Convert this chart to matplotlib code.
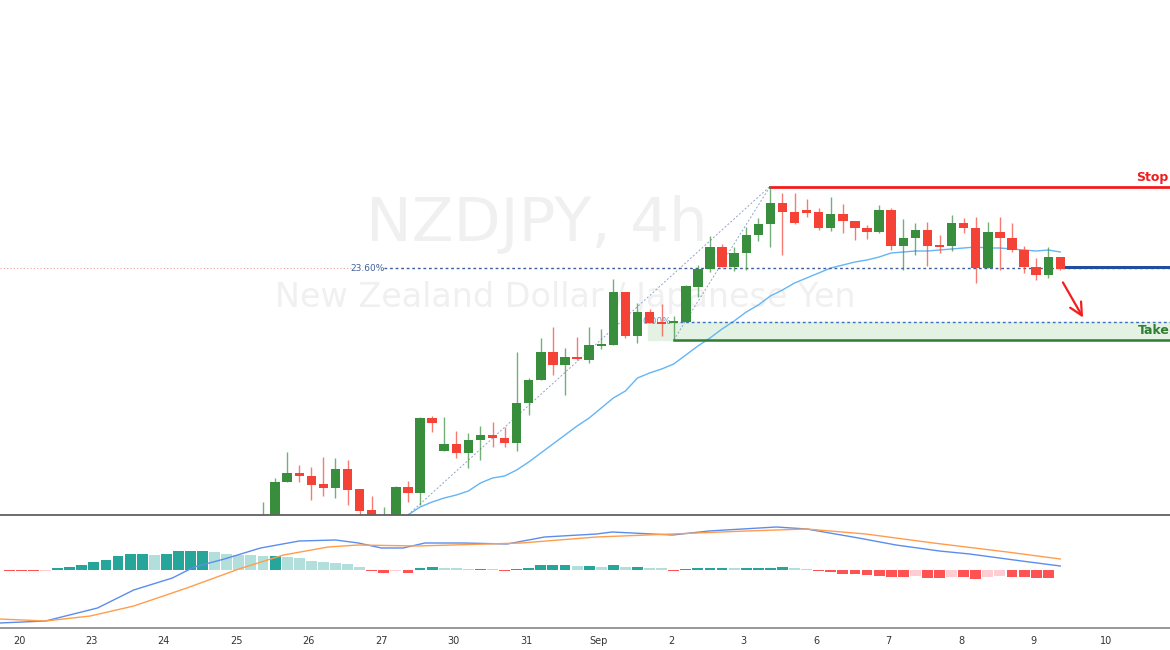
import numpy as np
import matplotlib
matplotlib.use("Agg")
import matplotlib.pyplot as plt
from matplotlib.patches import FancyArrowPatch

opens  = [76.70,76.80,77.18,77.27,77.24,77.16,77.12,77.31,77.11,76.90,76.70,76.80,77.13,77.07,77.82,77.49,77.56,77.47,77.60,77.65,
          77.62,77.57,77.97,78.20,78.48,78.35,78.43,78.40,78.545,78.55,79.08,78.64,78.88,78.77,78.77,78.78,79.13,79.31,79.53,79.33,
          79.47,79.65,79.76,79.97,79.88,79.90,79.88,79.72,79.86,79.79,79.72,79.68,79.90,79.54,79.62,79.70,79.55,79.54,79.77,79.72,
          79.32,79.68,79.62,79.50,79.33,79.25,79.43]
closes = [76.82,77.18,77.27,77.24,77.15,77.12,77.31,77.10,76.89,76.80,76.82,77.13,77.07,77.82,77.77,77.56,77.47,77.60,77.65,77.62,
          77.57,77.97,78.20,78.48,78.35,78.43,78.41,78.55,78.55,79.08,78.64,78.88,78.77,78.76,78.79,79.14,79.31,79.53,79.33,79.47,
          79.65,79.76,79.97,79.88,79.77,79.87,79.72,79.86,79.79,79.72,79.68,79.90,79.54,79.62,79.70,79.54,79.53,79.77,79.72,79.32,
          79.68,79.62,79.50,79.33,79.25,79.43,79.31]
highs  = [76.98,77.22,77.48,77.35,77.33,77.43,77.42,77.40,77.11,77.04,76.93,77.14,77.19,77.83,77.84,77.83,77.69,77.67,77.74,77.78,
          77.73,78.48,78.22,78.62,78.73,78.52,78.63,78.73,78.71,79.21,79.08,78.97,78.91,78.96,78.84,79.15,79.35,79.64,79.56,79.53,
          79.73,79.82,80.14,80.07,80.07,80.01,79.92,80.03,79.96,79.79,79.75,79.95,79.92,79.81,79.77,79.78,79.65,79.85,79.82,79.83,
          79.78,79.83,79.77,79.54,79.42,79.53,79.43]
lows   = [76.65,76.75,77.18,77.18,77.00,77.04,77.02,76.95,76.85,76.75,76.65,76.78,76.98,76.95,77.68,77.49,77.42,77.32,77.40,77.53,
          77.53,77.49,77.85,78.20,78.25,78.05,78.40,78.37,78.51,78.55,78.62,78.57,78.77,78.64,78.60,78.78,79.03,79.28,79.33,79.29,
          79.30,79.59,79.53,79.45,79.76,79.83,79.70,79.69,79.67,79.60,79.61,79.67,79.50,79.30,79.45,79.34,79.47,79.49,79.67,79.17,
          79.32,79.30,79.48,79.27,79.20,79.22,79.30]

ma_start = 12
ma_vals = [76.85,76.93,76.98,77.02,77.05,77.09,77.17,77.22,77.24,77.30,77.38,77.47,77.56,77.65,77.74,77.82,77.92,78.02,78.09,78.22,
           78.27,78.31,78.36,78.45,78.54,78.62,78.71,78.79,78.88,78.95,79.04,79.10,79.17,79.22,79.27,79.32,79.35,79.38,79.40,79.43,
           79.47,79.48,79.49,79.49,79.50,79.51,79.52,79.53,79.52,79.52,79.51,79.50,79.49,79.50,79.48]

macd_x = [-21.8,-18.0,-13.7,-10.7,-7.5,-5.7,-3.2,-0.2,3.0,6.0,7.9,9.8,11.6,13.4,16.6,20.2,23.3,27.6,28.9,33.9,36.9,42.5,45.0,49.3,52.4,56.0,58.5,62.8,66.0]
macd_v = [-0.53,-0.51,-0.38,-0.20,-0.08,0.03,0.11,0.22,0.29,0.30,0.27,0.22,0.22,0.27,0.27,0.26,0.33,0.36,0.38,0.35,0.39,0.43,0.41,0.32,0.25,0.19,0.16,0.09,0.04]
sig_x = [-21.8,-18.0,-14.3,-10.7,-6.3,-2.0,1.7,5.4,7.9,12.8,21.4,27.6,33.9,40.0,45.0,49.9,55.5,61.6,66.0]
sig_v = [-0.49,-0.51,-0.46,-0.36,-0.18,0.01,0.15,0.23,0.25,0.24,0.27,0.33,0.36,0.39,0.41,0.36,0.27,0.18,0.11]

hist_start = -21
hist_v = [-0.010,-0.010,-0.010,-0.005,
          0.024,0.035,0.049,0.077,0.105,0.136,0.157,0.157,0.153,0.164,0.188,0.188,0.188,0.181,0.164,0.153,0.146,0.136,0.139,0.129,
          0.118,0.094,0.084,0.070,0.059,0.031,-0.007,-0.028,-0.010,-0.028,0.017,0.035,0.024,0.017,0.014,0.014,0.007,-0.014,0.007,
          0.017,0.049,0.049,0.049,0.042,0.042,0.035,0.049,0.035,0.035,0.024,0.017,-0.014,0.007,0.017,0.024,0.024,0.017,0.024,0.024,
          0.024,0.035,0.024,0.014,-0.014,-0.021,-0.035,-0.042,-0.049,-0.056,-0.070,-0.070,-0.063,-0.080,-0.080,-0.070,-0.070,-0.091,
          -0.070,-0.063,-0.070,-0.070,-0.077,-0.084]

tick_pos = [-20.2 + 6*k for k in range(16)]
tick_labels = ["20","23","24","25","26","27","30","31","Sep","2","3","6","7","8","9","10"]

fib_236 = 79.32
fib_0 = 78.78
take_low = 78.60
stop_level = 80.13
entry_level = 79.33

GREEN = "#388e3c"; RED = "#f44336"
XL = (-21.77, 75.08)

fig = plt.figure(figsize=(11.7, 6.5), dpi=100)
ax = fig.add_axes([0, 135/650, 1, 515/650])
mx = fig.add_axes([0, 22/650, 1, 113/650])
for a in (ax, mx):
    a.set_xlim(*XL)
    for s in a.spines.values():
        s.set_visible(False)
    a.set_yticks([])
ax.set_xticks([])
ax.set_ylim(76.85, 82.0)
mx.set_ylim(-0.58, 0.55)

# watermark
ax.text(22.7, 79.75, "NZDJPY, 4h", fontsize=44, color="#f0f0f0", ha="center", va="center", zorder=0)
ax.text(25.0, 79.02, "New Zealand Dollar / Japanese Yen", fontsize=24, color="#f0f0f0", ha="center", va="center", zorder=0)

# candles
idx = np.arange(len(opens))
o = np.array(opens); c = np.array(closes)
cols = [GREEN if cc >= oo else RED for oo, cc in zip(o, c)]
ax.vlines(idx, lows, highs, colors=cols, lw=1, alpha=0.7, zorder=3)
body = np.maximum(np.abs(c - o), 0.015)
ax.bar(idx, body, bottom=np.minimum(o, c), width=0.78, color=cols, zorder=4)

# MA
ax.plot(np.arange(ma_start, ma_start + len(ma_vals)), ma_vals, color="#64b5f6", lw=1, zorder=2)

# fib drawings
ax.plot([12, 42], [lows[13] - 0.1, highs[42]], ls=(0, (2, 2)), color="#90a4c8", lw=0.7, zorder=2)
ax.plot([34, 42], [lows[34], highs[42]], ls=(0, (2, 2)), color="#90a4c8", lw=0.7, zorder=2)
ax.plot([XL[0], 7.3], [fib_236, fib_236], ls=(0, (1, 2)), color="#f0a0a0", lw=0.8)
ax.plot([10.0, XL[1]], [fib_236, fib_236], ls=(0, (2, 2)), color="#3f5f9f", lw=1)
ax.text(8.65, fib_236, "23.60%", fontsize=6.5, color="#3f5f9f", ha="center", va="center")
ax.plot([33.6, XL[1]], [fib_0, fib_0], ls=(0, (2, 2)), color="#3f6fbf", lw=1)
ax.text(32.6, fib_0, "0.00%", fontsize=6.5, color="#6f8fbf", ha="center", va="center")
ax.fill_between([31.9, XL[1]], take_low, fib_0, color="#e3f2e3", zorder=1)
ax.plot([34, XL[1]], [take_low, take_low], color="#2e7d32", lw=1.8, zorder=2)
ax.plot([42, XL[1]], [stop_level, stop_level], color="#f21d1d", lw=2, zorder=2)
ax.text(72.3, stop_level + 0.09, "Stop", fontsize=9, fontweight="bold", color="#f21d1d", ha="left", va="center")
ax.text(72.4, 78.69, "Take", fontsize=9, fontweight="bold", color="#2e7d32", ha="left", va="center")
ax.plot([66.5, XL[1]], [entry_level, entry_level], color="#1e4f9f", lw=2.2, zorder=5)
ax.add_patch(FancyArrowPatch((66.1, 79.20), (68.0, 78.80), arrowstyle="->,head_length=6,head_width=3",
                             color="#f21d1d", lw=1.6, mutation_scale=1.5, zorder=6))

# MACD
hx = np.arange(hist_start, hist_start + len(hist_v))
hv = np.array(hist_v)
hcols = []
for i, v in enumerate(hv):
    prev = hv[i - 1] if i > 0 else v
    if v >= 0:
        hcols.append("#26a69a" if v >= prev else "#b2dfdb")
    else:
        hcols.append("#ff5252" if v <= prev else "#ffcdd2")
mx.bar(hx, hv, width=0.9, color=hcols, zorder=2)
mx.plot(macd_x, macd_v, color="#5b8def", lw=1, zorder=3)
mx.plot(sig_x, sig_v, color="#ff9d4d", lw=1, zorder=3)
mx.set_xticks(tick_pos)
mx.set_xticklabels(tick_labels, fontsize=7, color="#333333")
mx.tick_params(axis="x", length=0, pad=6)

fig.add_artist(plt.Line2D([0, 1], [135/650, 135/650], color="#606060", lw=1.3))
fig.add_artist(plt.Line2D([0, 1], [22/650, 22/650], color="#909090", lw=1.3))

fig.savefig("out.png", dpi=100)
